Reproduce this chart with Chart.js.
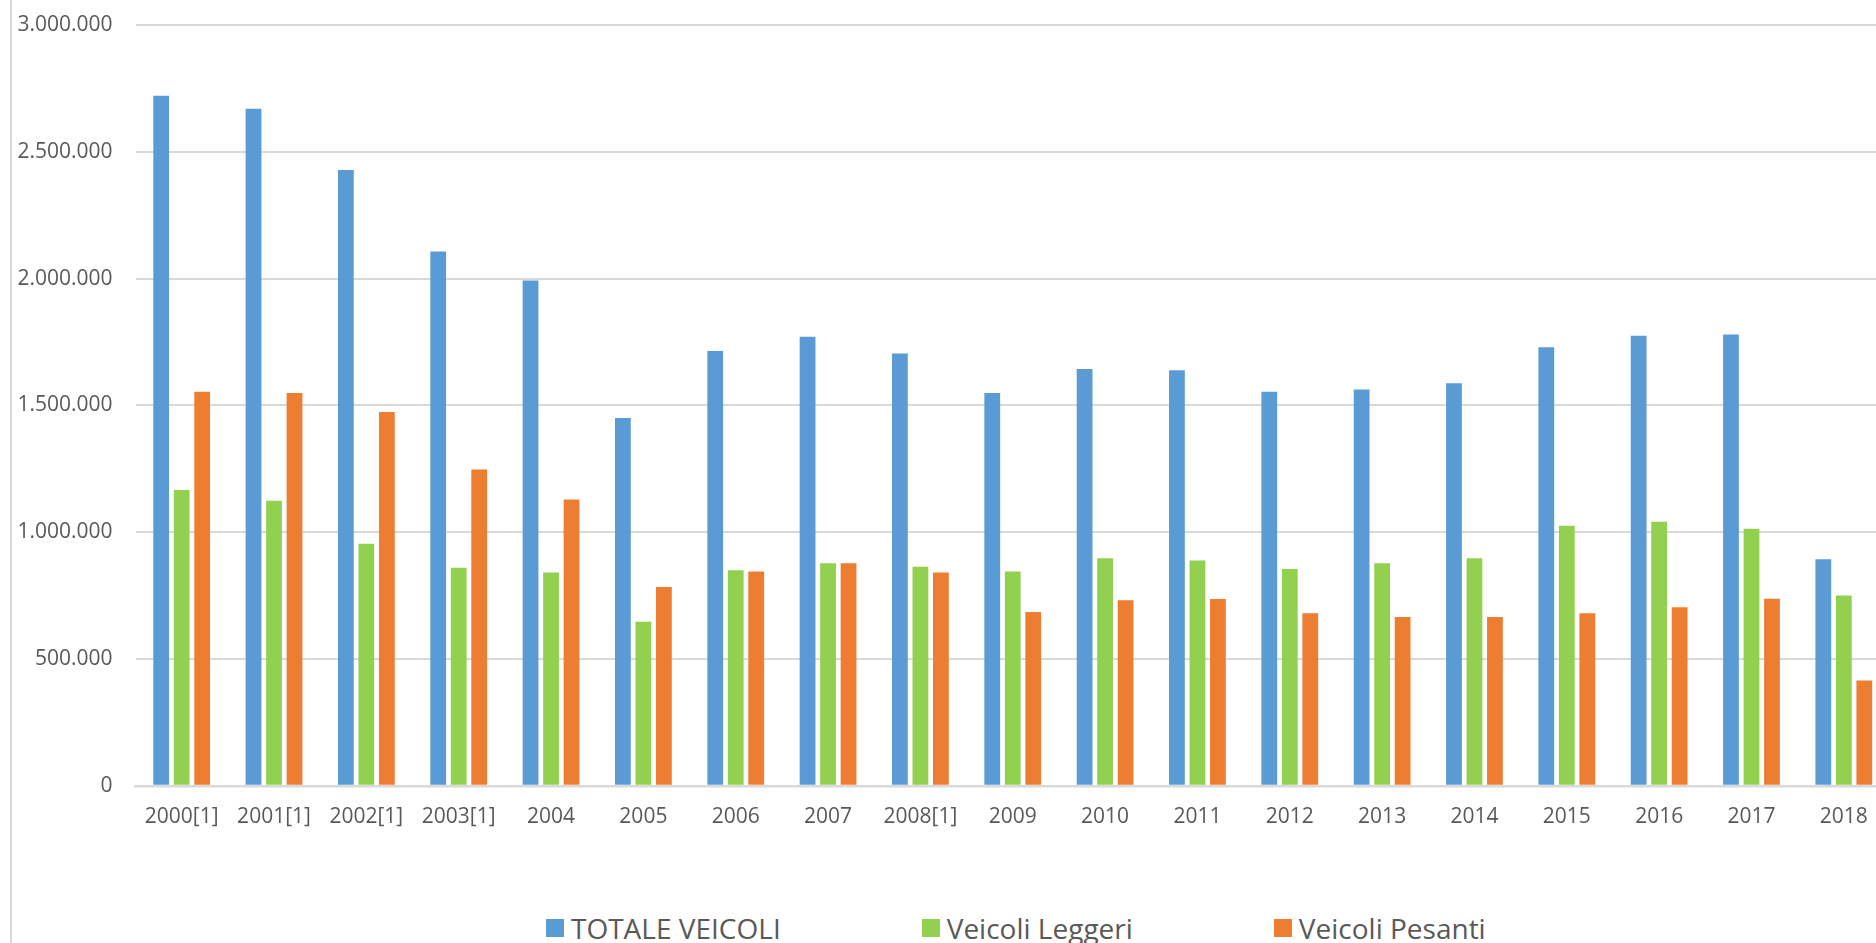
<!DOCTYPE html>
<html lang="it">
<head>
<meta charset="utf-8">
<title>Veicoli</title>
<script src="https://cdn.jsdelivr.net/npm/chart.js@4/dist/chart.umd.min.js"></script>
<style>
  html, body { margin:0; padding:0; background:#fff; overflow:hidden; width:1876px; height:943px; }
  #frame { position:absolute; left:10px; top:0; width:2px; height:943px; background:#d9d9d9; }
  #wrap { position:absolute; left:0; top:0; width:1890px; height:860px; }
  #legend { position:absolute; left:546px; top:909px; display:flex; gap:141px; font-family:'Open Sans', sans-serif; font-size:28px; color:#595959; }
  #legend .item { display:flex; align-items:center; height:38px; white-space:nowrap; }
  #legend .box { width:18px; height:18px; margin-right:7px; }
</style>
</head>
<body>
<div id="frame"></div>
<div id="wrap"><canvas id="chart"></canvas></div>
<div id="legend"></div>
<script>
// dati
const years = ['2000[1]','2001[1]','2002[1]','2003[1]','2004','2005','2006','2007','2008[1]','2009',
               '2010','2011','2012','2013','2014','2015','2016','2017','2018'];
const totale = [2721000,2670000,2428000,2107000,1993000,1450000,1715000,1771000,1705000,1549000,
                1644000,1639000,1554000,1563000,1587000,1729000,1775000,1780000,893000];
const leggeri = [1166000,1124000,954000,860000,841000,647000,850000,878000,864000,845000,
                 897000,888000,855000,878000,897000,1025000,1041000,1014000,750000];
const pesanti = [1554000,1549000,1474000,1247000,1129000,784000,845000,878000,841000,685000,
                 732000,737000,680000,666000,666000,680000,704000,738000,415000];
const seriesNames = ['TOTALE VEICOLI','Veicoli Leggeri','Veicoli Pesanti'];
const seriesColors = ['#5b9bd5','#92d050','#ed7d31'];
const yTicks = {min:0, max:3000000, step:500000};

const TXT = '#595959';
Chart.defaults.font.family = "'Open Sans', sans-serif";
Chart.defaults.font.size = 21;
Chart.defaults.color = TXT;

function fmt(v){ return String(v).replace(/\B(?=(\d{3})+(?!\d))/g, '.'); }

const datasets = [totale, leggeri, pesanti].map((d,i)=>({
  label: seriesNames[i],
  data: d,
  backgroundColor: seriesColors[i],
  borderWidth: 0,
  categoryPercentage: 0.666,
  barPercentage: 0.77
}));

new Chart(document.getElementById('chart'), {
  type: 'bar',
  data: { labels: years, datasets },
  options: {
    responsive: true,
    maintainAspectRatio: false,
    animation: false,
    layout: { padding: { left:0, right:0, top:25, bottom:11 } },
    plugins: { legend: { display:false }, tooltip: { enabled:false } },
    scales: {
      x: {
        grid: { display:false, drawTicks:false },
        border: { display:true, color:'#d9d9d9', width:2.5 },
        ticks: { padding:19, maxRotation:0, autoSkip:false, color:TXT }
      },
      y: {
        min: yTicks.min, max: yTicks.max,
        // larghezza fissa dell'asse e niente spazio extra sopra
        afterFit(s){ s.width = 135.5; s.paddingTop = 0; s.paddingBottom = 0; },
        grid: { color:'#d9d9d9', lineWidth:2, drawTicks:false },
        border: { display:false },
        ticks: { stepSize: yTicks.step, padding:23, color:TXT, callback: v => fmt(v) }
      }
    }
  }
});

// legenda
const lg = document.getElementById('legend');
seriesNames.forEach((n,i)=>{
  const it = document.createElement('div');
  it.className = 'item';
  it.innerHTML = `<span class="box" style="background:${seriesColors[i]}"></span><span>${n}</span>`;
  lg.appendChild(it);
});
</script>
</body>
</html>
